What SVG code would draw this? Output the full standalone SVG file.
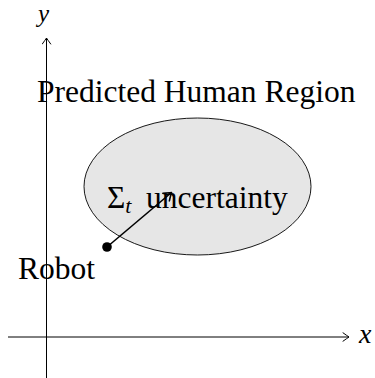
<svg xmlns="http://www.w3.org/2000/svg" width="375" height="378" viewBox="0 0 375 378">
<style>
.t{font-family:"Liberation Serif","Times New Roman",serif;font-size:31.5px;fill:#000}
.m{font-family:"Liberation Serif","Times New Roman",serif;font-style:italic;fill:#000}
.ax{stroke:#000;stroke-width:1;fill:none}
.head{fill:none;stroke:#000;stroke-linecap:round;stroke-linejoin:round}
</style>
<defs>
<marker id="to" viewBox="-7 -5 9 10" markerWidth="9" markerHeight="10" refX="0" refY="0" orient="auto" markerUnits="userSpaceOnUse">
<path class="head" stroke-width="1" d="M-6,-4.2 Q-1.5,-1 0,0 Q-1.5,1 -6,4.2"/>
</marker>
<marker id="to2" viewBox="-9 -6 11 12" markerWidth="11" markerHeight="12" refX="0" refY="0" orient="auto" markerUnits="userSpaceOnUse">
<path class="head" stroke-width="1.6" d="M-7,-5 Q-2,-1.2 0,0 Q-2,1.2 -7,5"/>
</marker>
</defs>
<g id="region">
<ellipse cx="197.5" cy="186.5" rx="113.5" ry="68.5" fill="#e6e6e6" stroke="#000" stroke-width="0.9"/>
</g>
<g id="labels">
<text class="t" x="37" y="102">Predicted Human Region</text>
<text class="t" x="107" y="208">Σ<tspan class="m" font-size="22" dy="5">t</tspan><tspan dy="-5" x="146">uncertainty</tspan></text>
<text class="t" x="18" y="279">Robot</text>
<text class="m" font-size="25" x="38" y="22">y</text>
<text class="m" font-size="28" x="359" y="343">x</text>
</g>
<g id="axes">
<line class="ax" x1="46.5" y1="378" x2="46.5" y2="38" marker-end="url(#to)"/>
<line class="ax" x1="8" y1="337" x2="349" y2="337" marker-end="url(#to)"/>
</g>
<g id="robot">
<circle cx="107" cy="247" r="4.8" fill="#000"/>
</g>
<g id="connectors">
<line x1="107" y1="247" x2="171.5" y2="192.5" stroke="#000" stroke-width="1.6" marker-end="url(#to2)"/>
</g>
</svg>
